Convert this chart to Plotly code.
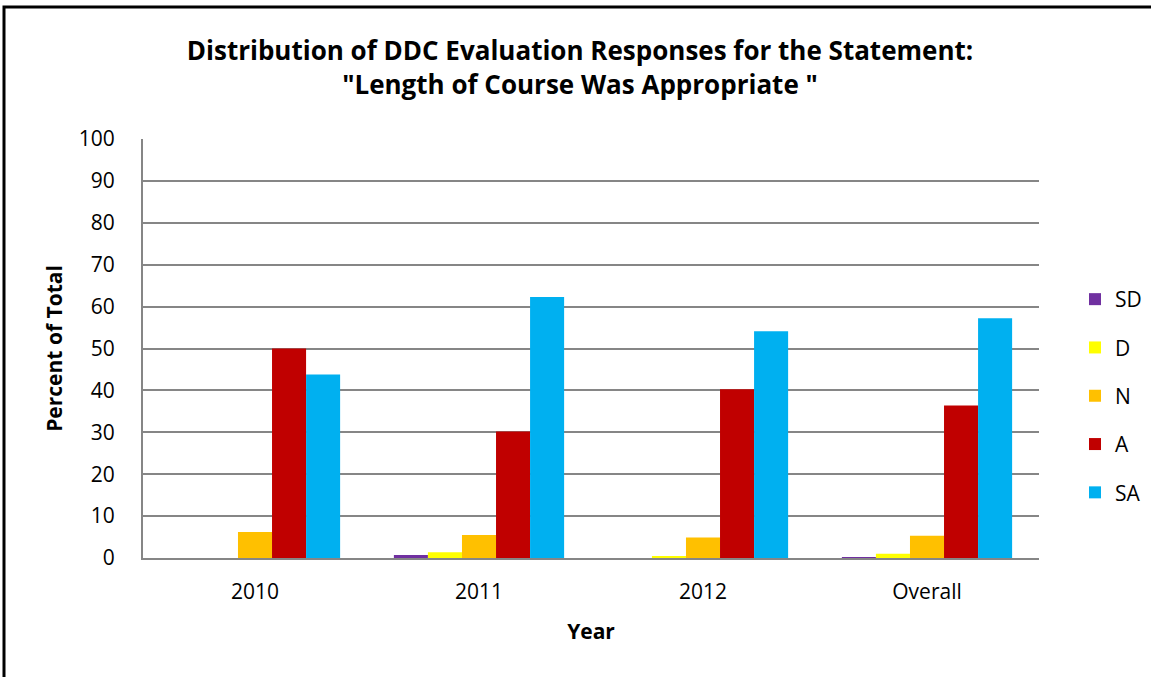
import plotly.graph_objects as go

categories = ["2010", "2011", "2012", "Overall"]
series_names = ["SD", "D", "N", "A", "SA"]
sd = [0.0, 0.7, 0.0, 0.2]
d = [0.0, 1.4, 0.5, 1.0]
n = [6.2, 5.5, 4.9, 5.3]
a = [50.0, 30.2, 40.3, 36.4]
sa = [43.8, 62.3, 54.1, 57.2]
colors = ["#7030A0", "#FFFF00", "#FFC000", "#C00000", "#00B0F0"]
y_ticks = list(range(0, 101, 10))

FONT = "Open Sans"
W, H = 1151, 677
ml, mr, mt, mb = 143, 112, 139, 119
pw, ph = W - ml - mr, H - mt - mb

fig = go.Figure()
for i, (name, vals) in enumerate(zip(series_names, [sd, d, n, a, sa])):
    fig.add_trace(go.Bar(x=categories, y=vals, name=name, marker_color=colors[i],
                         marker_line_width=0, legendgroup=name))

def px2paper_x(px):
    return (px - ml) / pw

def px2paper_y(py):
    return (H - mb - py) / ph

fig.update_layout(
    width=W, height=H,
    margin=dict(l=ml, r=mr, t=mt, b=mb, autoexpand=False),
    paper_bgcolor="white", plot_bgcolor="white",
    barmode="group", bargap=0.24, bargroupgap=0,
    title=dict(text="Distribution of DDC Evaluation Responses for the Statement:<br>\"Length of Course Was Appropriate \"",
               x=px2paper_x(580), xanchor="center", xref="paper", y=1 - 60 / H, yref="container", yanchor="top",
               font=dict(family=FONT, size=26, color="black", weight="bold")),
    font=dict(family=FONT, color="black"),
    xaxis=dict(showgrid=False, showline=True, linecolor="#868686", linewidth=2,
               ticks="", tickfont=dict(size=21, color="black"), ticklabelstandoff=14,
               title=dict(text="Year", font=dict(size=21, weight="bold"), standoff=20)),
    yaxis=dict(range=[0, 100], tickvals=y_ticks, showgrid=True, gridcolor="#868686", gridwidth=2,
               showline=True, linecolor="#868686", linewidth=2, ticks="",
               zeroline=False, ticklabelstandoff=22,
               tickfont=dict(size=21, color="black"),
               title=dict(text="Percent of Total", font=dict(size=21, weight="bold"), standoff=10)),
    legend=dict(x=px2paper_x(1075), xanchor="left", y=px2paper_y(279), yanchor="top",
                font=dict(size=21, color="black"), traceorder="grouped", tracegroupgap=18,
                itemwidth=30),
    showlegend=True,
)

fig.add_shape(type="rect", xref="paper", yref="paper",
              x0=px2paper_x(4), x1=px2paper_x(W + 20), y0=px2paper_y(H + 20), y1=px2paper_y(7),
              line=dict(color="black", width=3), fillcolor="rgba(0,0,0,0)", layer="above")

fig.write_html("out.html", config={"displayModeBar": False},
               post_script="document.body.style.margin='0';document.body.style.overflow='hidden';")
